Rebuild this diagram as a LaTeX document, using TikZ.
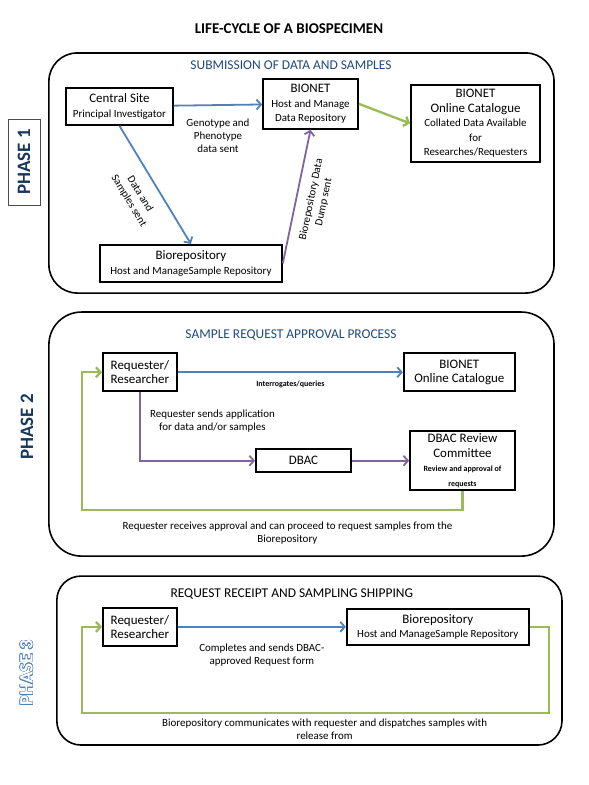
\documentclass[tikz,border=0pt]{standalone}
\usepackage{fontspec}
\setmainfont{Carlito}
\usepackage{contour}
\usetikzlibrary{positioning,arrows.meta}
\definecolor{arrowblue}{HTML}{4F81BD}
\definecolor{arrowpurple}{HTML}{8064A2}
\definecolor{arrowgreen}{HTML}{9BBB59}
\definecolor{headblue}{HTML}{1F497D}
\definecolor{phasenavy}{HTML}{17375E}
\newcommand{\subline}[1]{{\fontsize{11}{13}\selectfont #1}}
\newcommand{\tinyline}[1]{{\fontsize{8}{9.5}\selectfont\bfseries #1}}
\contourlength{0.6pt}

\begin{document}
\begin{tikzpicture}[node distance=1.5cm,on grid,auto,>={Straight Barb[length=4.5pt,width=10pt]},
	box/.style={draw,line width=1.8pt,align=center,inner sep=1pt,font=\fontsize{13}{14.5}\selectfont},
	phaseframe/.style={draw,line width=1.6pt,minimum width=17.82cm},
	heading/.style={font=\fontsize{13.5}{16}\selectfont},
	lbl/.style={align=center,font=\fontsize{11}{13}\selectfont},
	phaselabel/.style={rotate=90,font=\fontsize{19}{22}\selectfont\bfseries},
	bluearrow/.style={->,draw=arrowblue,line width=1.8pt},
	purplearrow/.style={->,draw=arrowpurple,line width=1.8pt},
	greenarrow/.style={->,draw=arrowgreen,line width=2.3pt}]
	\useasboundingbox (-289bp,29bp) rectangle (300bp,-756bp);
	\node[font=\fontsize{15}{18}\selectfont\bfseries] (title) {LIFE-CYCLE OF A BIOSPECIMEN};

	\node[phaseframe,minimum height=8.47cm,rounded corners=1cm] (phase1) [below right=5.08cm and 0.44cm of title] {};
	\node[heading,text=headblue] (submission) [above left=3.81cm and 0.37cm of phase1] {SUBMISSION OF DATA AND SAMPLES};
	\node[draw=black!70,line width=0.6pt,minimum width=3.03cm,minimum height=1.13cm,phaselabel,text=phasenavy] (phase1label) [above left=0.39cm and 9.79cm of phase1] {PHASE 1};
	\node[box,minimum width=3.77cm,minimum height=1.31cm] (central) [below left=1.46cm and 6.05cm of submission] {Central Site\\\subline{Principal Investigator}};
	\node[box,minimum width=3.35cm,minimum height=1.76cm] (bionet) [above right=0.09cm and 6.74cm of central] {BIONET\\\subline{Host and Manage}\\\subline{Data Repository}};
	\node[box,minimum width=4.55cm,minimum height=2.72cm] (catalogue) [below right=0.69cm and 5.82cm of bionet] {BIONET\\Online Catalogue\\\subline{Collated Data Available}\\\subline{for}\\\subline{Researches/Requesters}};
	\node[box,minimum width=6.42cm,minimum height=1.31cm] (biorepo) [below right=5.54cm and 2.52cm of central] {Biorepository\\\subline{Host and ManageSample Repository}};
	\path
	(central) edge[bluearrow] node[lbl,below=10pt] {Genotype and\\Phenotype\\data sent} (bionet)
	(central.south) edge[bluearrow] node[lbl,sloped,below=9pt] {Data and\\Samples sent} (biorepo.north)
	(biorepo.east) edge[purplearrow] node[lbl,sloped,below=6pt] {Biorepository Data\\Dump sent} (bionet.south)
	(bionet.east) edge[greenarrow] (catalogue.west);

	\node[phaseframe,minimum height=8.61cm,rounded corners=1.15cm] (phase2) [below=9.21cm of phase1] {};
	\node[heading,text=headblue] (approval) [above left=3.49cm and 0.37cm of phase2] {SAMPLE REQUEST APPROVAL PROCESS};
	\node[phaselabel,text=phasenavy] (phase2label) [above left=0.25cm and 9.68cm of phase2] {PHASE 2};
	\node[box,minimum width=2.61cm,minimum height=1.34cm] (requester) [below left=1.31cm and 5.33cm of approval] {Requester/\\Researcher};
	\node[box,minimum width=3.92cm,minimum height=1.34cm] (catalogue2) [right=11.27cm of requester] {BIONET\\Online Catalogue};
	\node[box,minimum width=3.35cm,minimum height=0.81cm] (dbac) [below right=3.12cm and 5.77cm of requester] {DBAC};
	\node[box,minimum width=3.70cm,minimum height=2.08cm] (review) [right=5.61cm of dbac] {DBAC Review\\Committee\\\tinyline{Review and approval of}\\\tinyline{requests}};
	\path
	(requester) edge[bluearrow] node[below=4.5pt,font=\fontsize{8}{9.5}\selectfont\bfseries] {Interrogates/queries} (catalogue2)
	(dbac) edge[purplearrow] (review);
	\draw[purplearrow] (requester.south) |- node[lbl,pos=0.21,right=6pt] {Requester sends application\\for data and/or samples} (dbac.west);
	\draw[greenarrow] (review.south) -- ++(0,-0.67cm) -| node[lbl,pos=0.23,below=7pt] {Requester receives approval and can proceed to request samples from the\\Biorepository} ([xshift=-0.71cm]requester.west) -- (requester.west);

	\node[phaseframe,minimum height=5.96cm,rounded corners=0.85cm] (phase3) [below right=7.99cm and 0.28cm of phase2] {};
	\node[heading] (shipping) [above left=2.35cm and 0.62cm of phase3] {REQUEST RECEIPT AND SAMPLING SHIPPING};
	\node[phaselabel] (phase3label) [below left=0.44cm and 9.97cm of phase3] {\contour{arrowblue}{\textcolor{white}{PHASE 3}}};
	\node[box,minimum width=2.61cm,minimum height=1.34cm] (requester3) [below left=1.16cm and 5.36cm of shipping] {Requester/\\Researcher};
	\node[box,minimum width=6.42cm,minimum height=1.27cm] (biorepo3) [right=10.51cm of requester3] {Biorepository\\\subline{Host and ManageSample Repository}};
	\path (requester3) edge[bluearrow] node[lbl,below=13pt] {Completes and sends DBAC-\\approved Request form} (biorepo3);
	\draw[greenarrow] (biorepo3.east) -- ++(0.67cm,0) -- ++(0,-3.04cm) -| node[lbl,pos=0.24,below=1pt] {Biorepository communicates with requester and dispatches samples with\\release from} ([xshift=-0.71cm]requester3.west) -- (requester3.west);
\end{tikzpicture}
\end{document}
